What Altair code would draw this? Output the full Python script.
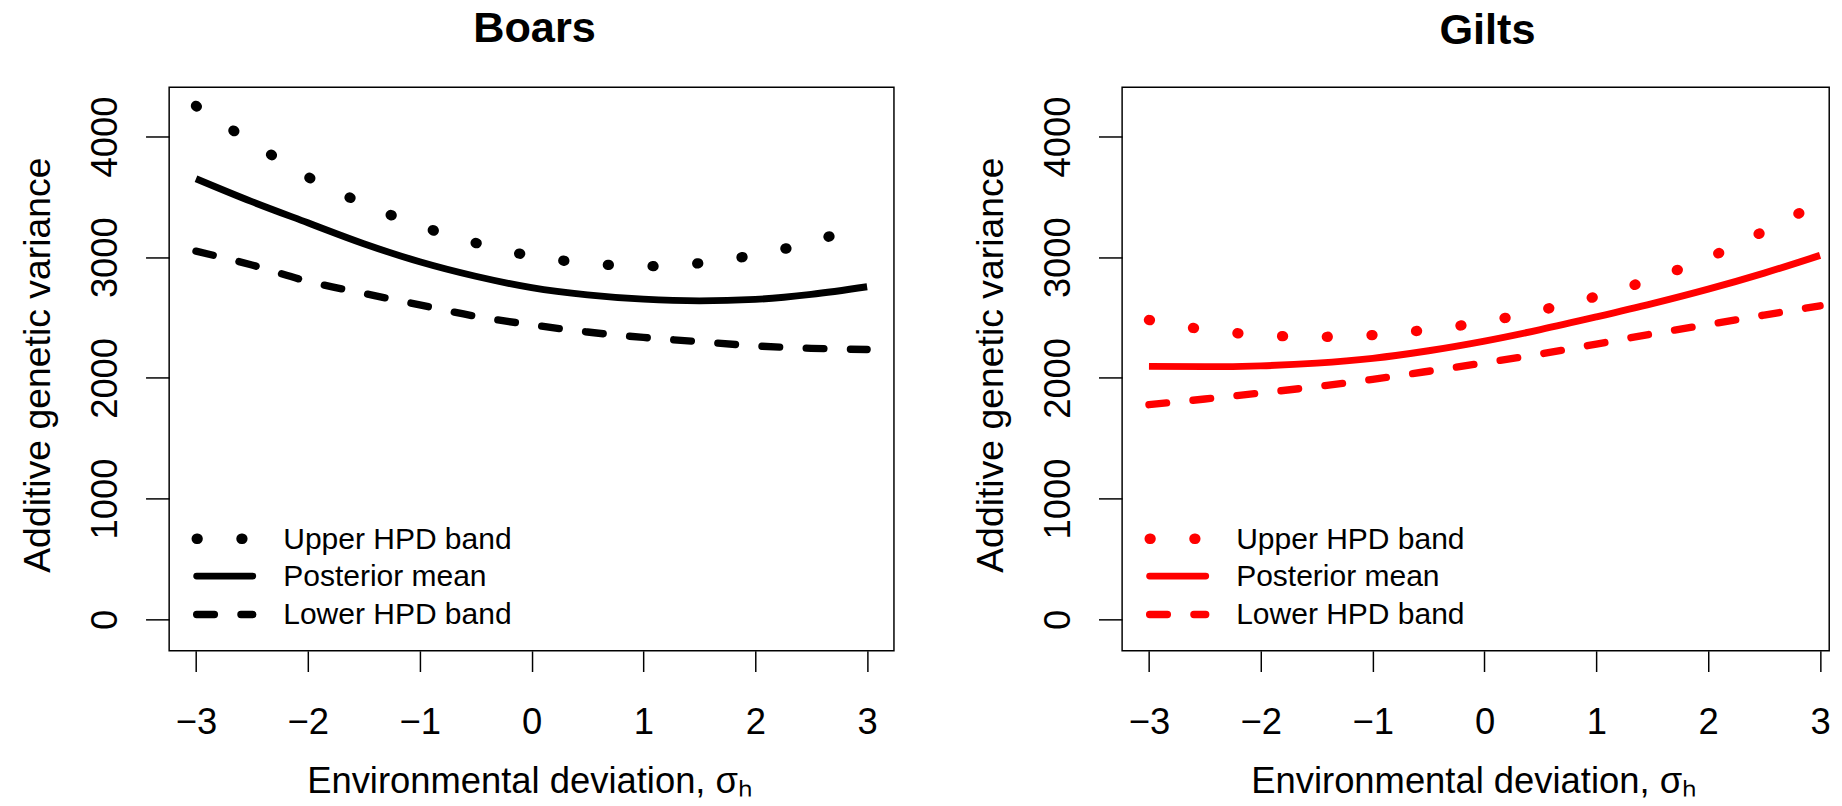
import altair as alt
import pandas as pd

# ---- data ----
sigma = [-3, -2.5, -2, -1.5, -1, -0.5, 0, 0.5, 1, 1.5, 2, 2.5, 3]

boars_upper = [4253, 3950, 3665, 3442, 3260, 3118, 3010, 2950, 2925, 2950, 3020, 3125, 3285]
boars_mean = [3650, 3460, 3285, 3112, 2962, 2842, 2748, 2688, 2652, 2638, 2650, 2692, 2755]
boars_lower = [3050, 2935, 2800, 2700, 2605, 2510, 2440, 2380, 2335, 2300, 2265, 2245, 2235]

gilts_upper = [2480, 2400, 2355, 2340, 2355, 2400, 2465, 2560, 2675, 2820, 2995, 3215, 3455]
gilts_mean = [2095, 2093, 2100, 2122, 2162, 2225, 2305, 2400, 2505, 2615, 2735, 2868, 3015]
gilts_lower = [1778, 1825, 1875, 1928, 1988, 2055, 2125, 2198, 2280, 2365, 2442, 2520, 2597]

x_ticks = [-3, -2, -1, 0, 1, 2, 3]
y_ticks = [0, 1000, 2000, 3000, 4000]
legend_labels = ["Upper HPD band", "Posterior mean", "Lower HPD band"]
titles = ["Boars", "Gilts"]

FONT = "Liberation Sans"
H = 573


def panel(title, upper, mean, lower, color, width, xmax, title_dx):
    df = pd.DataFrame({"sigma": sigma, "upper": upper, "mean": mean, "lower": lower})
    xs = alt.Scale(domain=[-3.24, xmax], nice=False, zero=False)
    ys = alt.Scale(domain=[-261, 4407], nice=False, zero=False)
    xax = alt.Axis(values=x_ticks, tickSize=21, tickWidth=1.5, tickColor="black",
                   labelPadding=63, labelBaseline="alphabetic", labelFontSize=37,
                   labelFont=FONT, labelColor="black", domain=False, grid=False,
                   title="Environmental deviation, σₕ", titleFont=FONT, titleFontSize=37,
                   titleFontWeight="normal", titleColor="black", titleBaseline="alphabetic",
                   titleY=144, titleX=width / 2 - 2, titleAlign="center")
    yax = alt.Axis(values=y_ticks, format="d", tickSize=24, tickWidth=1.5, tickColor="black",
                   labelAngle=270, labelAlign="center", labelBaseline="alphabetic",
                   labelPadding=30, labelFontSize=37, labelFont=FONT, labelColor="black",
                   domain=False, grid=False,
                   title="Additive genetic variance", titleFont=FONT, titleFontSize=38,
                   titleFontWeight="normal", titleColor="black", titleAngle=270,
                   titleX=-122, titleY=282, titleAlign="center", titleBaseline="alphabetic")
    base = alt.Chart(df)
    x = alt.X("sigma:Q", scale=xs, axis=xax)
    dotted = dict(strokeWidth=10.5, strokeDash=[1, 44.5])
    solid = dict(strokeWidth=7)
    dashed = dict(strokeWidth=7.5, strokeDash=[18, 27])
    up = base.mark_line(color=color, strokeCap="round", interpolate="monotone", **dotted).encode(
        x=x, y=alt.Y("upper:Q", scale=ys, axis=yax))
    mn = base.mark_line(color=color, strokeCap="butt", interpolate="monotone", **solid).encode(
        x=x, y="mean:Q")
    lo = base.mark_line(color=color, strokeCap="round", interpolate="monotone", **dashed).encode(
        x=x, y="lower:Q")

    layers = [up, mn, lo]
    rows = [459, 497, 536]
    for lab, st, ry in zip(legend_labels, [dotted, solid, dashed], rows):
        ld = pd.DataFrame({"label": [lab]})
        layers.append(alt.Chart(ld).mark_rule(color=color, strokeCap="round", **st).encode(
            x=alt.value(28), x2=alt.value(85), y=alt.value(ry)))
        layers.append(alt.Chart(ld).mark_text(align="left", baseline="alphabetic",
                                              font=FONT, fontSize=30.5, color="black").encode(
            x=alt.value(116), y=alt.value(ry + 10), text="label:N"))

    return alt.layer(*layers).properties(
        width=width, height=H,
        title=alt.Title(title, font=FONT, fontSize=44, fontWeight="bold", color="black",
                        baseline="alphabetic", offset=0, anchor="middle", dx=title_dx),
    )


left = panel(titles[0], boars_upper, boars_mean, boars_lower, "black", 737, 3.24, 3)
right = panel(titles[1], gilts_upper, gilts_mean, gilts_lower, "#ff0000", 719, 3.082, 12)

chart = alt.hconcat(left, right, spacing=78).properties(
    padding={"left": 19, "top": 0, "right": 0, "bottom": 0},
    background="white",
).configure_view(stroke="black", strokeWidth=1.5)

chart.save("out.html", embed_options={"renderer": "svg", "actions": False})
